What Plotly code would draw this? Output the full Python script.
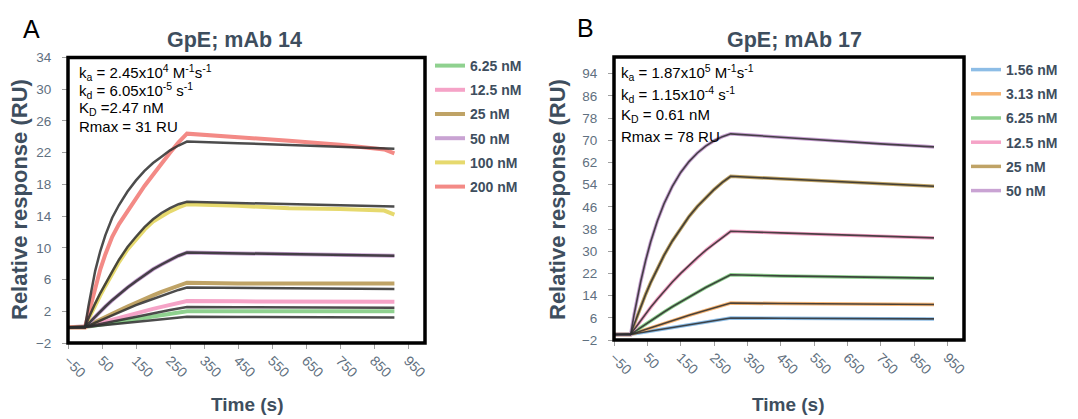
import plotly.graph_objects as go

# ---------------- data ----------------
time_s = [-50, 0, 10, 20, 30, 45, 60, 80, 100, 125, 150, 175, 200, 225, 250, 275, 300,
          450, 600, 750, 880, 910]
x_ticks = [-50, 50, 150, 250, 350, 450, 550, 650, 750, 850, 950]

# Panel A: GpE; mAb 14  (measured responses, RU)
a_labels = ["6.25 nM", "12.5 nM", "25 nM", "50 nM", "100 nM", "200 nM"]
a_6_25 = [0, 0, 0.07, 0.14, 0.21, 0.32, 0.43, 0.57, 0.71, 0.88, 1.05, 1.21, 1.38, 1.54, 1.7, 1.85, 2.0,
          2.0, 1.95, 2.0, 2.0, 2.0]
a_12_5 = [0, 0, 0.12, 0.24, 0.36, 0.54, 0.72, 0.96, 1.2, 1.48, 1.76, 2.03, 2.3, 2.56, 2.81, 3.06, 3.3,
          3.25, 3.2, 3.25, 3.2, 3.2]
a_25 = [0, 0, 0.22, 0.44, 0.66, 0.98, 1.3, 1.7, 2.1, 2.6, 3.1, 3.55, 4.0, 4.45, 4.85, 5.25, 5.6,
        5.5, 5.5, 5.45, 5.5, 5.5]
a_50 = [0, 0, 0.45, 0.9, 1.35, 2.0, 2.6, 3.4, 4.15, 5.0, 5.8, 6.6, 7.3, 7.9, 8.5, 9.0, 9.4,
        9.3, 9.2, 9.1, 9.05, 9.0]
a_100 = [0, 0, 1.0, 1.9, 2.8, 4.0, 5.2, 6.7, 8.2, 9.8, 11.1, 12.3, 13.3, 14.0, 14.6, 15.1, 15.5,
         15.3, 15.0, 14.9, 14.7, 14.2]
a_200 = [0, 0, 1.6, 3.3, 5.0, 7.3, 9.2, 11.4, 13.0, 14.7, 16.2, 17.8, 19.3, 20.6, 22.0, 23.3, 24.4,
         24.0, 23.5, 23.0, 22.4, 21.9]
# Panel A fitted curves (RU)
a_fit_6_25 = [0, 0, 0.045, 0.09, 0.135, 0.2, 0.27, 0.36, 0.45, 0.56, 0.67, 0.78, 0.88, 0.99, 1.1, 1.2, 1.3,
              1.28, 1.25, 1.22, 1.2, 1.2]
a_fit_12_5 = [0, 0, 0.09, 0.18, 0.27, 0.41, 0.55, 0.73, 0.91, 1.13, 1.35, 1.56, 1.77, 1.97, 2.17, 2.36, 2.55,
              2.52, 2.5, 2.47, 2.45, 2.45]
a_fit_25 = [0, 0, 0.2, 0.39, 0.59, 0.88, 1.16, 1.52, 1.88, 2.32, 2.77, 3.17, 3.57, 3.97, 4.33, 4.69, 5.0,
            4.95, 4.9, 4.85, 4.82, 4.8]
a_fit_50 = [0, 0, 0.45, 0.9, 1.35, 2.0, 2.6, 3.4, 4.15, 5.0, 5.8, 6.6, 7.3, 7.9, 8.5, 9.0, 9.4,
            9.3, 9.2, 9.1, 9.05, 9.0]
a_fit_100 = [0, 0, 1.1, 2.1, 3.0, 4.3, 5.5, 7.0, 8.5, 10.1, 11.4, 12.6, 13.6, 14.4, 15.0, 15.5, 15.8,
             15.65, 15.5, 15.35, 15.22, 15.2]
a_fit_200 = [0, 0, 2.6, 5.0, 7.1, 9.6, 11.6, 13.8, 15.4, 17.1, 18.5, 19.7, 20.7, 21.5, 22.3, 22.9, 23.4,
             23.2, 22.95, 22.75, 22.55, 22.5]
a_y_ticks = [-2, 2, 6, 10, 14, 18, 22, 26, 30, 34]

# Panel B: GpE; mAb 17  (measured responses, RU; the fits coincide with the data)
b_labels = ["1.56 nM", "3.13 nM", "6.25 nM", "12.5 nM", "25 nM", "50 nM"]
b_1_56 = [0, 0, 0.21, 0.42, 0.62, 0.93, 1.24, 1.64, 2.05, 2.54, 3.04, 3.53, 4.01, 4.49, 4.96, 5.43, 5.9,
          5.85, 5.75, 5.7, 5.62, 5.6]
b_3_13 = [0, 0, 0.42, 0.83, 1.24, 1.85, 2.45, 3.25, 4.04, 5.0, 5.94, 6.88, 7.79, 8.69, 9.58, 10.45, 11.3,
          11.15, 11.0, 10.9, 10.82, 10.8]
b_6_25 = [0, 0, 0.86, 1.7, 2.54, 3.77, 4.98, 6.56, 8.1, 9.97, 11.77, 13.5, 15.2, 16.9, 18.45, 20.0, 21.5,
          21.1, 20.8, 20.6, 20.35, 20.3]
b_12_5 = [0, 0, 1.73, 3.42, 5.06, 7.46, 9.77, 12.7, 15.5, 18.9, 22.0, 24.9, 27.7, 30.3, 32.7, 35.0, 37.2,
          36.6, 36.0, 35.4, 34.9, 34.8]
b_25 = [0, 0, 3.5, 6.8, 10.0, 14.5, 18.7, 23.8, 28.5, 33.7, 38.3, 42.5, 46.1, 49.3, 52.2, 54.8, 57.0,
        56.1, 55.2, 54.3, 53.6, 53.4]
b_50 = [0, 0, 7.0, 13.3, 19.0, 26.7, 33.4, 40.9, 47.1, 53.4, 58.4, 62.3, 65.4, 67.9, 69.8, 71.3, 72.3,
        71.1, 69.8, 68.7, 67.8, 67.6]
b_y_ticks = [-2, 6, 14, 22, 30, 38, 46, 54, 62, 70, 78, 86, 94]

a_data = [a_6_25, a_12_5, a_25, a_50, a_100, a_200]
a_fits = [a_fit_6_25, a_fit_12_5, a_fit_25, a_fit_50, a_fit_100, a_fit_200]
b_data = [b_1_56, b_3_13, b_6_25, b_12_5, b_25, b_50]

# ---------------- style ----------------
FONT = "Liberation Sans, Arial, sans-serif"
TITLE_C = "#3e4e5e"
TICK_C = "#5f7080"
FIT_C = "rgba(45,45,45,0.85)"
a_colors = ["#8fd18f", "#f5a3c7", "#bfa366", "#c9a3d3", "#e6d96e", "#f38a86"]
b_colors = ["#8dbde6", "#f6b574", "#8fd18f", "#f5a3c7", "#bfa366", "#c9a3d3"]

fig = go.Figure()

for i, (lab, ys) in enumerate(zip(a_labels, a_data)):
    fig.add_trace(go.Scatter(x=time_s, y=ys, mode="lines", name=lab,
                             line=dict(color=a_colors[i], width=4),
                             legend="legend", legendgroup="a%d" % i,
                             xaxis="x", yaxis="y"))
for i, ys in enumerate(a_fits):
    fig.add_trace(go.Scatter(x=time_s, y=ys, mode="lines", showlegend=False,
                             line=dict(color=FIT_C, width=2.5),
                             xaxis="x", yaxis="y", hoverinfo="skip"))

for i, (lab, ys) in enumerate(zip(b_labels, b_data)):
    fig.add_trace(go.Scatter(x=time_s, y=ys, mode="lines", name=lab,
                             line=dict(color=b_colors[i], width=3.5),
                             legend="legend2", legendgroup="b%d" % i,
                             xaxis="x2", yaxis="y2"))
for i, ys in enumerate(b_data):
    fig.add_trace(go.Scatter(x=time_s, y=ys, mode="lines", showlegend=False,
                             line=dict(color=FIT_C, width=1.6),
                             xaxis="x2", yaxis="y2", hoverinfo="skip"))

W, H = 1078, 419


def px_x(v):
    return v / W


def px_y(v):
    return 1 - v / H


xcommon = dict(range=[-50, 1000], tickvals=x_ticks, tickangle=45, ticks="outside",
               ticklen=5, tickcolor="#a0a0a0", showgrid=False, zeroline=False,
               showline=False, ticklabelstandoff=-2,
               tickfont=dict(family=FONT, size=14, color=TICK_C))
ycommon = dict(ticks="outside", ticklen=5, tickcolor="#a0a0a0", showgrid=False,
               zeroline=False, showline=False, ticklabelstandoff=8,
               tickfont=dict(family=FONT, size=13.5, color=TICK_C))

legend_common = dict(xanchor="left", yanchor="top", bgcolor="rgba(0,0,0,0)",
                     tracegroupgap=3, borderwidth=0,
                     font=dict(family=FONT, size=14, color=TITLE_C, weight="bold"))

fig.update_layout(
    width=W, height=H, margin=dict(l=0, r=0, t=0, b=0, autoexpand=False),
    paper_bgcolor="white", plot_bgcolor="white",
    font=dict(family=FONT),
    xaxis=dict(domain=[px_x(68), px_x(425)], anchor="y", **xcommon),
    yaxis=dict(domain=[px_y(343), px_y(57.5)], anchor="x", range=[-2, 34],
               tickvals=a_y_ticks, **ycommon),
    xaxis2=dict(domain=[px_x(614), px_x(964)], anchor="y2", **xcommon),
    yaxis2=dict(domain=[px_y(340), px_y(57)], anchor="x2", range=[-2, 100],
                tickvals=b_y_ticks, **ycommon),
    legend=dict(x=px_x(430), y=px_y(50), **legend_common),
    legend2=dict(x=px_x(966), y=px_y(54), **legend_common),
    showlegend=True,
)

# thick frames around the plot areas
for xr, yr in (("x domain", "y domain"), ("x2 domain", "y2 domain")):
    fig.add_shape(type="rect", xref=xr, yref=yr, x0=0, x1=1, y0=0, y1=1,
                  line=dict(color="black", width=3.5), layer="above")

ann = []


def add_text(x, y, text, size, color="black", bold=False, angle=0, xanchor="center"):
    ann.append(dict(x=px_x(x), y=px_y(y), xref="paper", yref="paper", text=text,
                    showarrow=False, xanchor=xanchor, yanchor="middle", textangle=angle,
                    font=dict(family=FONT, size=size, color=color,
                              weight="bold" if bold else "normal")))


add_text(31, 29, "A", 25)
add_text(585, 28, "B", 25)
add_text(234, 40, "GpE; mAb 14", 21.5, TITLE_C, True)
add_text(794, 40, "GpE; mAb 17", 21.5, TITLE_C, True)
add_text(20, 200, "Relative response (RU)", 22, TITLE_C, True, -90)
add_text(558, 200, "Relative response (RU)", 22, TITLE_C, True, -90)
add_text(247, 404, "Time (s)", 19, TITLE_C, True)
add_text(788, 404, "Time (s)", 19, TITLE_C, True)

a_info = ["k<sub>a</sub> = 2.45x10<sup>4</sup> M<sup>-1</sup>s<sup>-1</sup>",
          "k<sub>d</sub> = 6.05x10<sup>-5</sup> s<sup>-1</sup>",
          "K<sub>D</sub> =2.47 nM",
          "Rmax = 31 RU"]
b_info = ["k<sub>a</sub> = 1.87x10<sup>5</sup> M<sup>-1</sup>s<sup>-1</sup>",
          "k<sub>d</sub> = 1.15x10<sup>-4</sup> s<sup>-1</sup>",
          "K<sub>D</sub> = 0.61 nM",
          "Rmax = 78 RU"]
for t, yy in zip(a_info, [73, 91, 109, 127]):
    add_text(77, yy, t, 15, xanchor="left")
for t, yy in zip(b_info, [73, 94, 115, 136]):
    add_text(619, yy, t, 15, xanchor="left")

fig.update_layout(annotations=ann)
fig.write_html("out.html", config={"displayModeBar": False},
               post_script="document.body.style.margin='0px';")
